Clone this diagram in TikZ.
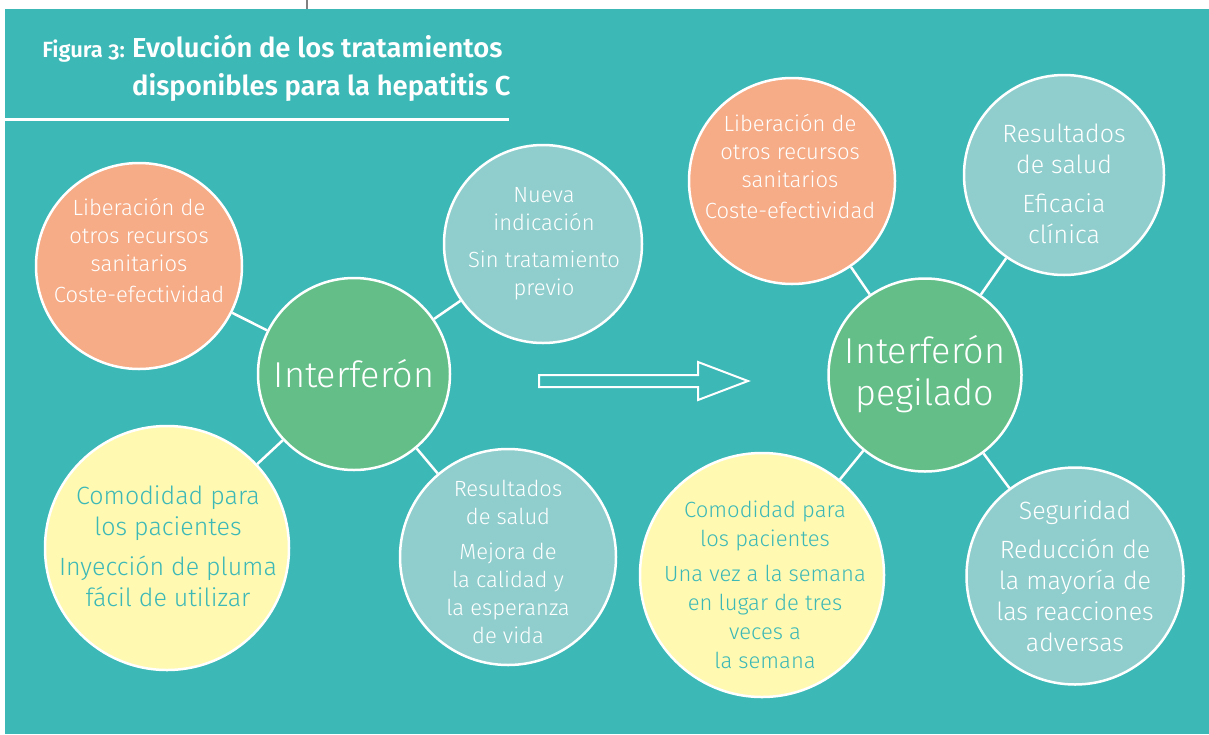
\documentclass[tikz,border=0pt]{standalone}
\usepackage{fontspec}
\setmainfont{Fira Sans Light}
\newfontfamily\titlefont{Fira Sans SemiBold}[Numbers=OldStyle]
\usepackage{tikz}

\definecolor{fondo}{RGB}{60,184,183}
\definecolor{naranja}{RGB}{245,172,135}
\definecolor{celeste}{RGB}{143,206,205}
\definecolor{verde}{RGB}{99,190,135}
\definecolor{amarillo}{RGB}{255,249,178}

\tikzset{
  burbuja/.style={circle, draw=white, line width=2.5pt, inner sep=0pt},
  enlace/.style={draw=white, line width=2.5pt},
  texto/.style={text=white, align=center, font=\fontsize{22}{28}\selectfont},
  textog/.style={text=white, align=center, font=\fontsize{25}{31}\selectfont},
  centro/.style={text=white, align=center, font=\fontsize{36}{42}\selectfont}
}

\begin{document}
\begin{tikzpicture}[x=1pt, y=-1pt]
        \useasboundingbox (0,0) rectangle (1209,734);
        \fill[fondo] (5,9) rectangle (1209,734);
        \draw[gray, line width=2] (307,0) -- (307,9);

        \node[anchor=base east, inner sep=0pt, text=white, font=\titlefont\fontsize{22}{22}\selectfont] (fig) at (125,57) {Figura 3:};
        \node[anchor=base west, inner sep=0pt, text=white, align=left, font=\titlefont\fontsize{27.4}{38}\selectfont] (titulo) at (132,95) {Evolución de los tratamientos\\disponibles para la hepatitis C};
        \draw[white, line width=3] (5,119) -- (509,119);

        \node[burbuja, fill=verde, minimum size=192] (int1) at (354,374) {};
        \node[burbuja, fill=naranja, minimum size=206] (lib1) at (139,266) {};
        \node[burbuja, fill=celeste, minimum size=198] (nueva) at (543,244) {};
        \node[burbuja, fill=amarillo, minimum size=244] (como1) at (167,548) {};
        \node[burbuja, fill=celeste, minimum size=216] (res1) at (508,557) {};
        \draw[enlace] (lib1) -- (int1);
        \draw[enlace] (nueva) -- (int1);
        \draw[enlace] (como1) -- (int1);
        \draw[enlace] (res1) -- (int1);

        \node[centro] at (354,374) {Interferón};
        \node[texto] at (139,251) {Liberación de\\otros recursos\\sanitarios\\[3pt]Coste-efectividad};
        \node[texto] at (544,244) {Nueva\\indicación\\[9pt]Sin tratamiento\\previo};
        \node[textog, text=fondo] at (168,546) {Comodidad para\\los pacientes\\[9pt]Inyección de pluma\\fácil de utilizar};
        \node[texto] at (508,562) {Resultados\\de salud\\[7pt]Mejora de\\la calidad y\\la esperanza\\de vida};

        \draw[white, line width=2] (539,375) -- (698,375) -- (698,362) -- (748,381) -- (698,400) -- (698,387) -- (539,387) -- cycle;

        \node[burbuja, fill=verde, minimum size=193] (int2) at (925,375) {};
        \node[burbuja, fill=naranja, minimum size=206] (lib2) at (792,181) {};
        \node[burbuja, fill=celeste, minimum size=200] (res2) at (1064,175) {};
        \node[burbuja, fill=amarillo, minimum size=244] (como2) at (762,575) {};
        \node[burbuja, fill=celeste, minimum size=217] (seg) at (1075,576) {};
        \draw[enlace] (lib2) -- (int2);
        \draw[enlace] (res2) -- (int2);
        \draw[enlace] (como2) -- (int2);
        \draw[enlace] (seg) -- (int2);

        \node[centro] at (925,374) {Interferón\\pegilado};
        \node[texto] at (790,167) {Liberación de\\otros recursos\\sanitarios\\[3pt]Coste-efectividad};
        \node[textog] at (1064,184) {Resultados\\de salud\\[8pt]Eficacia\\clínica};
        \node[texto, text=fondo, font=\fontsize{22}{29}\selectfont] at (765,585) {Comodidad para\\los pacientes\\[6pt]Una vez a la semana\\en lugar de tres\\veces a\\la semana};
        \node[textog] at (1075,576) {Seguridad\\[8pt]Reducción de\\la mayoría de\\las reacciones\\adversas};
\end{tikzpicture}
\end{document}
